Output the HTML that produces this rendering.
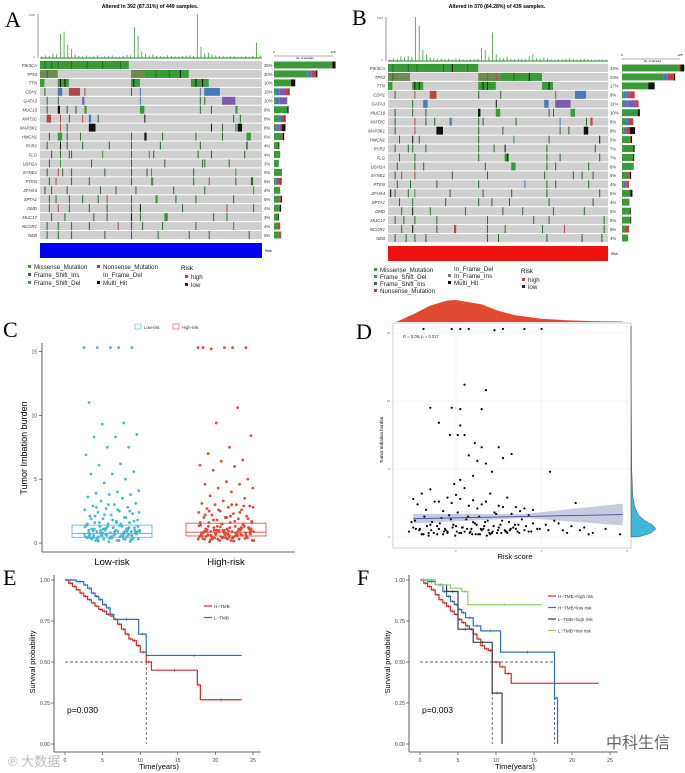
<!DOCTYPE html>
<html><head><meta charset="utf-8"><title>TMB figure</title>
<style>
html,body{margin:0;padding:0;background:#fff;}
svg{display:block;font-family:"Liberation Sans","Noto Sans CJK SC",sans-serif;}
</style></head>
<body>
<svg id="fig" width="685" height="773" viewBox="0 0 685 773" xmlns="http://www.w3.org/2000/svg">
<rect width="685" height="773" fill="#fff"/>
<g id="gA"></g>
<g id="gB"></g>
<g id="gC"></g>
<g id="gD"></g>
<g id="gE"></g>
<g id="gF"></g>
<text x="5" y="27" font-family="Liberation Serif,serif" font-size="22">A</text>
<text x="352" y="25" font-family="Liberation Serif,serif" font-size="22">B</text>
<text x="3" y="337" font-family="Liberation Serif,serif" font-size="22">C</text>
<text x="356" y="339" font-family="Liberation Serif,serif" font-size="22">D</text>
<text x="3" y="585" font-family="Liberation Serif,serif" font-size="22">E</text>
<text x="357" y="585" font-family="Liberation Serif,serif" font-size="22">F</text>
<text x="8" y="766" font-size="13" fill="#bbb">℗ 大数据</text>
<text x="606" y="748" font-size="16" fill="#666">中科生信</text>
</svg>
<script>
// ---------- DATA ----------
const genesA=["PIK3CA","TP53","TTN","CDH1","GATA3","MUC16","KMT2C","MAP3K1","HMCN1","RYR2","FLG","USH2A","SYNE1","PTEN","ZFHX4","SPTA1","DMD","MUC17","NCOR1","NEB"];
const pctA=["35%","30%","10%","15%","10%","9%","8%","8%","6%","4%","4%","3%","5%","5%","4%","5%","4%","3%","4%","5%"];
const genesB=["PIK3CA","TP53","TTN","CDH1","GATA3","MUC16","KMT2C","MAP3K1","HMCN1","RYR2","FLG","USH2A","SYNE1","PTEN","ZFHX4","SPTA1","DMD","MUC17","NCOR1","NEB"];
const pctB=["34%","23%","17%","9%","11%","10%","8%","8%","5%","7%","7%","6%","5%","4%","5%","4%","5%","5%","5%","4%"];
const barsA=[[130,0,0,2,7],[75,10,0,10,3],[38,0,0,0,10],[3,10,12,8,2],[2,10,18,0,0],[30,0,0,0,3],[10,8,0,6,2],[5,8,0,5,8],[18,0,0,2,3],[10,0,0,0,2],[14,0,0,0,0],[11,0,0,0,0],[16,0,0,2,0],[3,6,0,6,2],[14,0,0,0,0],[12,0,0,4,2],[11,0,0,2,3],[9,0,0,0,2],[7,0,0,7,0],[11,0,0,5,0]];
const barsB=[[130,0,0,4,9],[95,10,0,14,3],[60,0,0,0,15],[3,8,6,12,0],[2,10,20,6,0],[36,0,0,0,5],[8,8,0,10,0],[3,7,0,8,12],[18,0,0,2,3],[26,0,0,0,3],[25,0,0,0,3],[27,0,0,0,0],[14,0,0,4,3],[3,7,0,6,0],[19,0,0,0,5],[15,0,0,2,0],[16,0,0,2,2],[17,0,0,2,2],[7,0,0,9,0],[14,0,0,0,0]];
const segsA=[
 [[0,40,"g"]],
 [[0,8,"m"],[41,47,"m"],[47,67,"g"]],
 [[0,2,"g"],[8,13,"g"],[41,45,"g"],[68,76,"g"]],
 [[8,10,"b"],[13,18,"r"],[74,81,"b"]],
 [[19,20,"p"],[82,88,"p"]],
 [[8,9,"k"],[20,21,"g"],[45,47,"g"],[88,89,"g"]],
 [[3,5,"r"],[22,23,"b"]],
 [[22,25,"k"],[89,91,"k"]],
 [[8,10,"g"],[47,48,"k"],[93,95,"g"]],[],[],[],[],[[50,51,"g"],[95,96,"d"]],[],[[52,53,"g"]],[],[[56,57,"g"]],[],[]];
const ticksA=[
 [[2,"d"],[5,"d"],[8,"d"],[14,"d"],[21,"d"],[28,"d"],[36,"d"]],
 [[3,"d"],[52,"d"],[58,"d"],[63,"k"]],
 [[9,"k"],[11,"k"],[42,"k"],[70,"k"],[73,"k"]],
 [[2,"d"],[20,"r"],[41,"d"],[45,"b"],[72,"b"]],
 [[3,"d"],[8,"d"],[45,"b"],[72,"d"],[74,"d"]],
 [[3,"d"],[12,"d"],[16,"d"],[72,"d"],[77,"d"]],
 [[9,"r"],[13,"d"],[19,"r"],[26,"d"],[47,"k"],[87,"d"],[90,"d"]],
 [[9,"r"],[12,"d"],[77,"k"],[82,"d"],[88,"d"]],
 [[4,"d"],[12,"d"],[18,"d"],[41,"d"],[55,"d"],[70,"d"],[82,"d"]],
 [[3,"d"],[9,"k"],[12,"d"],[19,"d"],[31,"d"],[41,"d"],[54,"d"],[72,"d"],[93,"k"]],
 [[5,"d"],[9,"d"],[13,"d"],[14,"d"],[28,"g"],[41,"d"],[49,"g"],[51,"d"],[71,"d"],[77,"d"],[92,"d"]],
 [[4,"d"],[9,"g"],[23,"d"],[41,"d"],[56,"d"],[73,"d"],[74,"d"],[85,"d"]],
 [[3,"d"],[8,"r"],[10,"d"],[14,"d"],[29,"d"],[41,"d"],[48,"d"],[50,"g"],[69,"d"],[88,"g"]],
 [[4,"d"],[7,"r"],[14,"d"],[22,"d"],[41,"d"],[69,"d"],[76,"r"],[88,"d"]],
 [[2,"d"],[5,"d"],[12,"d"],[27,"d"],[34,"d"],[43,"d"],[60,"d"],[74,"d"],[96,"g"]],
 [[4,"d"],[7,"d"],[13,"d"],[19,"d"],[26,"d"],[30,"r"],[41,"d"],[61,"d"],[70,"d"],[87,"d"]],
 [[4,"d"],[8,"r"],[13,"d"],[22,"d"],[30,"d"],[41,"d"],[45,"k"],[64,"d"],[84,"r"],[96,"d"]],
 [[5,"d"],[11,"d"],[24,"d"],[30,"d"],[41,"k"],[45,"d"],[57,"d"],[78,"d"],[84,"d"]],
 [[3,"d"],[8,"d"],[14,"d"],[22,"d"],[35,"r"],[41,"d"],[46,"d"],[55,"d"],[70,"d"],[87,"r"]],
 [[3,"d"],[8,"d"],[14,"d"],[29,"d"],[41,"d"],[53,"d"],[67,"d"],[76,"d"],[94,"d"]]];
const segsB=[
 [[0,41,"g"]],
 [[0,10,"m"],[41,51,"m"],[51,70,"g"]],
 [[0,2,"g"],[11,16,"g"],[41,49,"g"],[70,75,"g"]],
 [[19,22,"r"],[85,90,"b"]],
 [[16,18,"b"],[71,73,"b"],[76,83,"p"]],
 [[41,42,"k"],[49,51,"g"],[83,85,"g"]],
 [[28,29,"b"],[92,93,"r"]],
 [[22,25,"k"],[89,91,"k"]],
 [],[],[[53,55,"g"]],[[56,58,"g"]],[],[],[],[],[],[],[[30,31,"r"]],[]];
const ticksB=[
 [[2,"d"],[9,"d"],[13,"d"],[25,"d"],[29,"k"],[36,"d"]],
 [[2,"d"],[45,"r"],[49,"r"],[57,"d"],[64,"k"]],
 [[12,"k"],[14,"k"],[43,"k"],[45,"k"],[73,"k"]],
 [[3,"d"],[12,"r"],[41,"d"],[51,"d"],[76,"r"]],
 [[11,"d"],[49,"k"]],
 [[3,"d"],[11,"d"],[17,"d"],[41,"k"],[73,"d"],[75,"d"]],
 [[3,"d"],[12,"r"],[17,"d"],[21,"d"],[41,"d"],[43,"d"],[58,"d"],[78,"b"],[90,"d"]],
 [[3,"d"],[12,"r"],[41,"d"],[52,"d"],[78,"d"],[82,"d"]],
 [[5,"d"],[11,"k"],[14,"d"],[41,"d"],[57,"g"],[73,"d"],[96,"k"]],
 [[3,"d"],[9,"d"],[11,"d"],[17,"d"],[41,"d"],[48,"d"],[53,"k"],[72,"d"],[94,"d"]],
 [[5,"d"],[12,"d"],[41,"d"],[54,"k"],[72,"d"],[78,"d"],[96,"d"]],
 [[4,"d"],[12,"d"],[16,"d"],[44,"d"],[72,"d"],[76,"d"],[91,"d"]],
 [[3,"d"],[6,"r"],[12,"r"],[29,"d"],[45,"d"],[71,"d"],[84,"d"],[88,"d"],[93,"d"]],
 [[4,"d"],[10,"d"],[22,"d"],[41,"d"],[62,"b"],[72,"d"],[76,"d"],[91,"d"]],
 [[1,"k"],[3,"d"],[9,"d"],[12,"g"],[28,"d"],[43,"d"],[56,"d"],[72,"d"],[96,"d"]],
 [[5,"d"],[11,"d"],[26,"d"],[41,"d"],[47,"d"],[55,"d"],[73,"d"],[93,"d"]],
 [[6,"d"],[11,"k"],[19,"d"],[35,"d"],[52,"d"],[61,"d"],[75,"d"],[89,"d"]],
 [[3,"d"],[7,"d"],[12,"d"],[22,"d"],[45,"d"],[66,"d"],[73,"d"],[98,"d"]],
 [[6,"d"],[11,"k"],[22,"d"],[45,"d"],[53,"d"],[70,"d"],[80,"r"],[98,"d"]],
 [[3,"d"],[8,"d"],[12,"d"],[17,"d"],[45,"d"],[50,"d"],[72,"d"],[88,"d"],[97,"d"]]];
const tmbA=[.04,.06,.05,.1,.08,.55,.6,.3,.2,.08,.05,.04,.06,.03,.04,.06,.03,.04,.05,.06,.03,.03,.05,.07,.06,.7,.5,.15,.1,.06,.08,.05,.04,.03,.06,.05,.04,.03,.04,.05,.06,.05,1.0,.25,.1,.12,.08,.06,.05,.04,.03,.04,.04,.03,.03,.04,.03,.05,.35,.06];
const tmbB=[.04,.06,.05,.1,.08,.12,.1,1.0,.8,.25,.15,.08,.06,.05,.06,.04,.05,.03,.06,.05,.04,.03,.04,.04,.05,.3,.25,.1,.65,.15,.08,.06,.1,.05,.04,.06,.05,.04,.12,.15,.06,.05,.08,.06,.04,.03,.04,.04,.05,.06,.04,.03,.04,.05,.04,.03,.03,.04,.03,.03];
const lowTMB=[15.3,15.3,15.3,15.3,15.3,11,9.4,9.3,8.5,8.3,8.3,7.5,7.5,6.9,6.2,6.1,5.6,5.4,5.4,5,4.7,4.1,4,3.9,3.8,3.8,3.6,3.5,3.3,3.1,3,2.9,2.8,2.7,2.6,2.5,2.4,2.3,2.2,2.1,2,1.9,1.8,1.7,1.6,1.6,1.5,1.4,1.4,1.3,1.2,1.2,1.1,1.1,1,1,.9,.9,.9,.8,.8,.8,.7,.7,.7,.6,.6,.6,.5,.5,.5,.4,.4,.4,.3,.3,.3,.2,.2,.1,.1,1.5,1.3,1.0,.8,.6,.4,.9,1.1,.7,
 .2,.3,.4,.5,.6,.7,.8,.9,1.0,1.1,1.2,1.3,1.4,1.5,1.6,1.7,1.8,1.9,2.0,2.2,2.4,2.6,2.8,.25,.35,.45,.55,.65,.75,.85,.95,1.05,1.15,1.25,1.35,.15,.3,.5,.7,.9,1.1,1.3,1.6,2.1,2.5,3.0,.4,.6,.8,1.0,1.2,.3,.5,.7,.9,.2,.4,.6,.8,1.0,.35,.55,.75,.95,.45,.65];
const highTMB=[15.3,15.3,15.2,15.3,15.3,15.3,10.6,9.4,8.4,7.5,7,6.5,6.4,6.1,6,5.7,5,4.8,4.6,4.6,4.3,4.3,4,3.7,3.5,3.3,3.1,3,3,2.9,2.8,2.7,2.6,2.5,2.4,2.3,2.2,2.1,2,2,1.9,1.8,1.7,1.6,1.6,1.5,1.5,1.4,1.3,1.2,1.2,1.1,1.1,1,1,.9,.9,.9,.8,.8,.8,.7,.7,.7,.6,.6,.6,.5,.5,.5,.4,.4,.4,.3,.3,.3,.2,.2,.1,1.3,1.0,.8,.6,.4,1.1,.7,.9,1.2,
 .2,.3,.4,.5,.6,.7,.8,.9,1.0,1.1,1.2,1.3,1.4,1.5,1.6,1.7,1.8,1.9,2.0,2.2,2.4,2.6,2.8,3.0,.25,.35,.45,.55,.65,.75,.85,.95,1.05,1.15,1.25,1.35,.15,.3,.5,.7,.9,1.1,1.3,1.6,2.1,2.5,2.9,.4,.6,.8,1.0,1.2,.3,.5,.7,.9,.2,.4,.6,.8,1.0,.35,.55,.75,.95,.45,.65];
const boxLow=[0.45,0.75,1.4];
const boxHigh=[0.55,0.85,1.55];
const riskD=[0.62,0.95,1.05,1.15,1.45,1.55,1.8,2.0,1.1,1.35,0.7,0.95,1.05,1.3,1.05,1.1,0.8,0.93,1.02,1.22,1.3,1.5,1.65,1.55,1.25,1.15,1.35,1.42,1.2,1.05,0.98,2.1,0.5,0.6,0.7,0.8,0.9,1.0,1.1,1.2,1.3,1.4,1.5,1.6,1.7,1.8,1.9,0.55,0.65,0.75,0.85,0.95,1.05,1.15,1.25,1.35,1.45,1.55,1.65,1.75,1.85,2.4,0.45,0.52,0.58,0.63,0.68,0.72,0.78,0.83,0.88,0.92,0.97,1.02,1.07,1.12,1.17,1.22,1.27,1.32,1.37,1.42,1.47,1.52,1.57,1.62,1.67,1.72,1.77,1.82,1.9,1.95,2.05,2.15,2.25,2.35,2.5,2.6,2.75,2.92,0.48,0.57,0.66,0.74,0.81,0.87,0.94,1.01,1.08,1.14,1.19,1.24,1.29,1.34,1.39,1.44,1.49,1.54,1.59,1.64,1.69,1.74,1.8,1.88,1.98,2.2,2.45,0.5,0.6,0.7,0.8,0.9,1.0,1.1,1.2,1.3,1.4,1.5,1.6,1.7,1.85,2.08,2.3,2.55,0.53,0.62,0.71,0.86,0.96,1.04,1.13,1.23,1.33,1.43,1.53,1.63,1.73,0.6,0.78,0.9,1.06,1.18,1.28,1.38,1.48,1.58,0.68,0.85,0.99,1.16,1.26,1.36];
const tmbD=[15.3,15.3,15.3,15.3,15.2,15.3,15.3,15.3,11.2,10.8,9.5,9.5,9.4,9.4,8.2,7.5,8.4,7.5,7.5,6.9,6.6,6.6,6.1,5.8,5.6,6,5.4,4.8,4.5,4.2,3.9,4.8,2.8,3.2,3.5,2.6,2.9,3.1,3.6,2.7,2.4,3.2,2.3,2.9,2.2,2.1,2.0,2.4,2.0,2.6,1.9,2.5,2.8,2.3,2.1,2.6,1.8,2.2,1.7,1.9,1.6,2.5,0.4,1.2,0.6,1.5,0.3,1.1,0.8,1.4,0.5,1.6,0.9,1.8,0.7,1.3,0.4,1.0,1.5,0.6,1.2,0.3,1.7,0.9,0.5,1.1,0.7,0.4,1.3,0.8,1.0,0.6,0.9,1.2,0.5,0.8,0.7,0.3,0.6,0.2,1.1,0.5,0.8,0.3,1.0,0.6,1.3,0.4,0.7,1.5,0.2,0.9,0.6,1.1,0.3,0.8,0.5,1.2,0.4,0.6,0.9,0.3,0.5,0.4,0.6,1.0,0.5,0.7,0.2,0.9,0.6,0.3,0.8,0.4,1.1,0.5,0.2,0.7,0.3,0.6,0.4,0.5,0.3,0.2,0.6,0.2,0.5,0.4,0.7,0.3,0.6,0.2,0.8,0.4,0.3,0.5,0.9,0.2,0.2,0.4,0.3,0.6,0.2,0.5,0.3,0.4,0.1,0.2,0.1,0.3,0.2,0.1];
const regD=[[0.5,1.35],[2.95,1.65]];
const eRedT=[0,0.5,1,1.5,2,2.5,3,3.5,4,4.5,5,5.5,6,6.5,7,7.5,8,8.5,9,9.5,10,10.8,11.5,17.6,18,23.5];
const eRedS=[1,.98,.96,.94,.92,.9,.88,.86,.84,.82,.81,.79,.78,.76,.73,.7,.67,.64,.63,.6,.56,.5,.45,.36,.27,.27];
const eBlueT=[0,1.5,2.5,3,3.5,4,4.5,5,5.5,6,6.5,9.8,10.8,23.5];
const eBlueS=[1,.99,.97,.95,.92,.9,.88,.85,.83,.79,.76,.67,.54,.54];
const fRedT=[0,.5,1,1.5,2,2.5,3,3.5,4,4.5,5,5.5,6,6.5,7,7.5,8,8.5,9,9.5,10.5,11.2,12,23.5];
const fRedS=[1,.98,.96,.94,.91,.88,.86,.84,.81,.79,.76,.74,.72,.7,.67,.64,.6,.58,.57,.5,.47,.43,.37,.37];
const fBlueT=[0,1,2,3,3.5,4,4.5,5,5.5,6,7,8,10.6,17.7,18.1];
const fBlueS=[1,.99,.97,.93,.9,.87,.85,.82,.8,.77,.72,.69,.56,.28,0];
const fDarkT=[0,2,3.5,5,7,9.5,10.8];
const fDarkS=[1,.97,.93,.7,.62,.31,0];
const fGreenT=[0,2,4,5.5,6.3,16];
const fGreenS=[1,.97,.95,.93,.85,.85];
// ---------- HELPERS ----------
const NS="http://www.w3.org/2000/svg";
function el(tag,attrs,parent){const e=document.createElementNS(NS,tag);for(const k in attrs)e.setAttribute(k,attrs[k]);parent.appendChild(e);return e;}
function txt(parent,x,y,s,size,attrs){const t=el("text",Object.assign({x:x,y:y,"font-size":size},attrs||{}),parent);t.textContent=s;return t;}
const COL={g:"#3a9a3a",d:"#2b6a2b",m:"#6f8a50",r:"#b04a4a",b:"#4a78b8",p:"#7a5cb0",k:"#111"};
const STACK=["#3a9a3a","#4a78b8","#7a5cb0","#d03a3a","#111"];

function onco(g,cfg){
  const {x0,x1,y0,y1,genes,pcts,segs,ticks,tmb,bars,title,titleX,riskColor,bx0,bx1}=cfg;
  const n=genes.length, rh=(y1-y0)/n, W=x1-x0;
  const X=p=>x0+p/100*W;
  const t=txt(g,titleX,8,title,5.2,{"font-weight":"bold","text-anchor":"middle"});
  
  
  const ty0=y0-3, th=44;
  el("line",{x1:x0-2,y1:ty0-th,x2:x0-2,y2:ty0,stroke:"#333","stroke-width":.5},g);
  txt(g,x0-5,ty0-th+2,"1115",3,{"text-anchor":"end",fill:"#555"});
  txt(g,x0-5,ty0,"0",3,{"text-anchor":"end",fill:"#555"});
  const bw=W/tmb.length;
  tmb.forEach((v,i)=>{
    const r=el("rect",{x:x0+i*bw+bw*0.4,y:ty0-v*th,width:0.8,height:v*th,fill:"#3f9c3f"},g);
    
    
  });
  el("line",{x1:x0,y1:ty0,x2:x1,y2:ty0,stroke:"#3f9c3f","stroke-width":1.2},g);
  genes.forEach((name,i)=>{
    const ry=y0+i*rh;
    const row=el("rect",{x:x0,y:ry,width:W,height:rh-1,fill:"#cfcfcf"},g);
    
    
    segs[i].forEach(s=>{el("rect",{x:X(s[0]),y:ry,width:X(s[1])-X(s[0]),height:rh-1,fill:COL[s[2]]},g);});
    ticks[i].forEach(s=>{el("rect",{x:X(s[0]),y:ry,width:1,height:rh-1,fill:COL[s[1]]},g);});
    const lb=txt(g,x0-3,ry+rh*0.65,name,4.3,{"text-anchor":"end",fill:"#333","font-style":"italic"});
    
    
    txt(g,x1+2,ry+rh*0.65,pcts[i],4.3,{fill:"#333"});
    let cx=bx0; const sc=(bx1-bx0)/140;
    bars[i].forEach((c,j)=>{ if(c>0){ const r=el("rect",{x:cx,y:ry+0.5,width:c*sc,height:rh-2,fill:STACK[j]},g);   cx+=c*sc;} });
  });
  el("line",{x1:bx0,y1:y0-5,x2:bx1-3,y2:y0-5,stroke:"#333","stroke-width":.4},g);
  txt(g,bx0,y0-8,"0",3,{"text-anchor":"middle"});
  txt(g,bx1-3,y0-8,"125",3,{"text-anchor":"middle"});
  txt(g,(bx0+bx1)/2,y0-2,"No. of samples",2.6,{"text-anchor":"middle"});
  const rb=el("rect",{x:x0,y:y1+3,width:W,height:15,fill:riskColor},g);
  
  
  txt(g,x1+3,y1+12,"Risk",3.5,{});
}

const gA=document.getElementById("gA");
onco(gA,{x0:40,x1:262,y0:61,y1:240,genes:genesA,pcts:pctA,segs:segsA,ticks:ticksA,tmb:tmbA,bars:barsA,title:"Altered in 392 (87.31%) of 449 samples.",titleX:150,riskColor:"#0000f0",bx0:274,bx1:336});
function legend(g,items){items.forEach(it=>{
  el("rect",{x:it[0],y:it[1]-4,width:3,height:3,fill:it[3]},g);
  const t=txt(g,it[0]+6,it[1],it[2],6.2,{fill:"#222"});
  
  
});}
legend(gA,[[28,269,"Missense_Mutation","#3a9a3a"],[28,277,"Frame_Shift_Ins","#555"],[28,285,"Frame_Shift_Del","#4a8a6a"],[97,269,"Nonsense_Mutation","#8a5050"],[97,277,"In_Frame_Del","#fff"],[97,285,"Multi_Hit","#000"],[185,279,"high","#d03a3a"],[185,287,"low","#223"]]);
txt(gA,181,270,"Risk",6.2,{});
const gB=document.getElementById("gB");
onco(gB,{x0:388,x1:608,y0:64,y1:243,genes:genesB,pcts:pctB,segs:segsB,ticks:ticksB,tmb:tmbB,bars:barsB,title:"Altered in 370 (84.28%) of 439 samples.",titleX:497,riskColor:"#f01010",bx0:622,bx1:683});
legend(gB,[[374,272,"Missense_Mutation","#3a9a3a"],[374,279,"Frame_Shift_Del","#4a8a6a"],[374,286,"Frame_Shift_Ins","#555"],[374,293,"Nonsense_Mutation","#8a5050"],[448,271,"In_Frame_Del","#fff"],[448,278,"In_Frame_Ins","#777"],[448,285,"Multi_Hit","#000"],[522,282,"high","#d03a3a"],[522,289,"low","#223"]]);
txt(gB,521,273,"Risk",6.2,{});

// ---------- PANEL C ----------
const gC=document.getElementById("gC");
const cY=v=>543-v*12.77;
el("line",{x1:42,y1:343,x2:42,y2:552,stroke:"#333","stroke-width":.8},gC);
el("line",{x1:42,y1:552,x2:295,y2:552,stroke:"#333","stroke-width":.8},gC);
[0,5,10,15].forEach(v=>{el("line",{x1:39,y1:cY(v),x2:42,y2:cY(v),stroke:"#333","stroke-width":.6},gC);txt(gC,37,cY(v)+2,String(v),5,{"text-anchor":"end",fill:"#444"});});
const yt=txt(gC,0,0,"Tumor Imbation burden",9,{transform:"translate(27,448) rotate(-90)","text-anchor":"middle"});


txt(gC,112,565,"Low-risk",9.5,{"text-anchor":"middle"});
txt(gC,226,565,"High-risk",9.5,{"text-anchor":"middle"});
el("rect",{x:135,y:324,width:6,height:5,fill:"none",stroke:"#4ab8d0","stroke-width":.6},gC);
txt(gC,144,329,"Low-risk",4.2,{fill:"#333"});
el("rect",{x:173,y:324,width:6,height:5,fill:"none",stroke:"#e05040","stroke-width":.6},gC);
txt(gC,182,329,"High-risk",4.2,{fill:"#333"});
function boxGroup(vals,box,cx,color,name){
  vals.forEach((v,i)=>{
    const jx=cx-28+((i*0.618034)%1)*56;
    const c=el("circle",{cx:jx,cy:cY(v),r:1.4,fill:color},gC);
    
    
  });
  const b=el("rect",{x:cx-40,y:cY(box[2]),width:80,height:cY(box[0])-cY(box[2]),fill:"none",stroke:color,"stroke-width":.8},gC);
  
  
  el("line",{x1:cx-40,y1:cY(box[1]),x2:cx+40,y2:cY(box[1]),stroke:color,"stroke-width":.9},gC);
}
boxGroup(lowTMB,boxLow,112,"#4ab8d0","low-risk");
boxGroup(highTMB,boxHigh,226,"#e04a35","high-risk");

// ---------- PANEL D ----------
const gD=document.getElementById("gD");
const dX=v=>456+(v-1)*85.5, dY=v=>537-v*13.6;
el("rect",{x:393,y:323,width:238,height:225,fill:"#fff",stroke:"#aaa","stroke-width":.6},gD);
[1,2,3].forEach(v=>{el("line",{x1:dX(v),y1:323,x2:dX(v),y2:548,stroke:"#eee","stroke-width":.6},gD);txt(gD,dX(v),552,String(v),3,{"text-anchor":"middle",fill:"#666"});});
[0,5,10,15].forEach(v=>{el("line",{x1:393,y1:dY(v),x2:631,y2:dY(v),stroke:"#eee","stroke-width":.6},gD);txt(gD,390,dY(v)+1,String(v),3,{"text-anchor":"end",fill:"#666"});});
const densTopX=[0.3,0.5,0.7,0.9,1.0,1.1,1.3,1.5,1.7,2.0,2.3,2.6,2.95];
const densTopY=[0,0.35,0.75,0.98,1.0,0.93,0.8,0.5,0.3,0.15,0.08,0.04,0.02];
let dp="M"+dX(densTopX[0])+",322";
densTopX.forEach((x,i)=>{dp+=" L"+dX(x)+","+(322-densTopY[i]*22);});
dp+=" L"+dX(2.95)+",322 Z";
const dt=el("path",{d:dp,fill:"#e04a30"},gD);


const densRY=[0,0.3,0.6,0.9,1.2,1.6,2.2,3,5,10,15.5];
const densRX=[0.3,0.8,1.0,0.85,0.55,0.3,0.15,0.07,0.03,0.01,0];
let rp="M631,"+dY(0);
densRY.forEach((y,i)=>{rp+=" L"+(631+densRX[i]*25)+","+dY(y);});
rp+=" L631,"+dY(15.5)+" Z";
const dr=el("path",{d:rp,fill:"#3bb8d8",stroke:"#333","stroke-width":.4},gD);


el("path",{d:`M${dX(regD[0][0])},${dY(regD[0][1]+0.35)} L${dX(1.8)},${dY(1.55+0.15)} L${dX(regD[1][0])},${dY(regD[1][1]+0.8)} L${dX(regD[1][0])},${dY(regD[1][1]-0.8)} L${dX(1.8)},${dY(1.55-0.15)} L${dX(regD[0][0])},${dY(regD[0][1]-0.35)} Z`,fill:"#b8bfd6",opacity:.8},gD);
riskD.forEach((x,i)=>{
  const c=el("circle",{cx:dX(x),cy:dY(tmbD[i]),r:1.1,fill:"#000"},gD);
  
  
});
const rl=el("line",{x1:dX(regD[0][0]),y1:dY(regD[0][1]),x2:dX(regD[1][0]),y2:dY(regD[1][1]),stroke:"#3a4fa0","stroke-width":.9},gD);


txt(gD,403,338,"R = 0.08, p = 0.017",4.2,{fill:"#333"});
txt(gD,515,559,"Risk score",7.5,{"text-anchor":"middle"});
txt(gD,0,0,"Tumor Imbation burden",4.5,{transform:"translate(383,440) rotate(-90)","text-anchor":"middle"});

// ---------- KM ----------
function km(g,cfg){
  const {x0,px,y0,y1,curves,legendX,legendY,p,medH,medV}=cfg;
  const X=t=>x0+t*px, Y=s=>y1-(y1-y0)*s;
  el("line",{x1:x0-11,y1:y0-5,x2:x0-11,y2:752,stroke:"#333","stroke-width":.8},g);
  el("line",{x1:x0-11,y1:752,x2:X(26),y2:752,stroke:"#333","stroke-width":.8},g);
  [0,.25,.5,.75,1].forEach(v=>{el("line",{x1:x0-14,y1:Y(v),x2:x0-11,y2:Y(v),stroke:"#333","stroke-width":.6},g);txt(g,x0-15,Y(v)+2,v.toFixed(2),5.2,{"text-anchor":"end",fill:"#444"});});
  [0,5,10,15,20,25].forEach(v=>{el("line",{x1:X(v),y1:752,x2:X(v),y2:755,stroke:"#333","stroke-width":.6},g);txt(g,X(v),762,String(v),5.2,{"text-anchor":"middle",fill:"#444"});});
  txt(g,X(12.5),769,"Time(years)",7.5,{"text-anchor":"middle"});
  txt(g,0,0,"Survival probability",7.5,{transform:`translate(${x0-30},${Y(0.5)}) rotate(-90)`,"text-anchor":"middle"});
  el("line",{x1:X(0),y1:Y(.5),x2:X(medH),y2:Y(.5),stroke:"#333","stroke-width":.7,"stroke-dasharray":"3,2"},g);
  medV.forEach(t=>el("line",{x1:X(t),y1:Y(.5),x2:X(t),y2:Y(0),stroke:"#333","stroke-width":.7,"stroke-dasharray":"3,2"},g));
  curves.forEach((c,ci)=>{
    let d="M"+X(c.t[0])+","+Y(c.s[0]);
    for(let i=1;i<c.t.length;i++){d+=" H"+X(c.t[i])+" V"+Y(c.s[i]);}
    const pth=el("path",{d:d,fill:"none",stroke:c.color,"stroke-width":1.2},g);
    
    
    for(let i=1;i<c.t.length;i++){const mx=(X(c.t[i-1])+X(c.t[i]))/2;el("line",{x1:mx,y1:Y(c.s[i-1])-1.5,x2:mx,y2:Y(c.s[i-1])+1.5,stroke:c.color,"stroke-width":.6},g);}
    const ly=legendY+ci*11.5;
    el("line",{x1:legendX,y1:ly,x2:legendX+8,y2:ly,stroke:c.color,"stroke-width":1.2},g);
    const lt=txt(g,legendX+10,ly+2,c.label,4.6,{fill:"#333"});
    
    
  });
  txt(g,x0+2,713,p,8.5,{});
}
km(document.getElementById("gE"),{x0:65,px:7.52,y0:580,y1:744,legendX:204,legendY:606,p:"p=0.030",medH:10.8,medV:[10.8],
  curves:[{key:"h-tmb",t:eRedT,s:eRedS,color:"#cc2a2a",label:"H−TMB"},{key:"l-tmb",t:eBlueT,s:eBlueS,color:"#2d6fb0",label:"L−TMB"}]});
km(document.getElementById("gF"),{x0:420,px:7.6,y0:580,y1:744,legendX:548,legendY:596,p:"p=0.003",medH:17.7,medV:[9.5,17.7],
  curves:[{key:"h-high",t:fRedT,s:fRedS,color:"#cc2a2a",label:"H−TMB+high risk"},{key:"h-low",t:fBlueT,s:fBlueS,color:"#2d6fb0",label:"H−TMB+low risk"},{key:"l-high",t:fDarkT,s:fDarkS,color:"#3a3a55",label:"L−TMB+high risk"},{key:"l-low",t:fGreenT,s:fGreenS,color:"#8ccf6a",label:"L−TMB+low risk"}]});
</script>
</body></html>
